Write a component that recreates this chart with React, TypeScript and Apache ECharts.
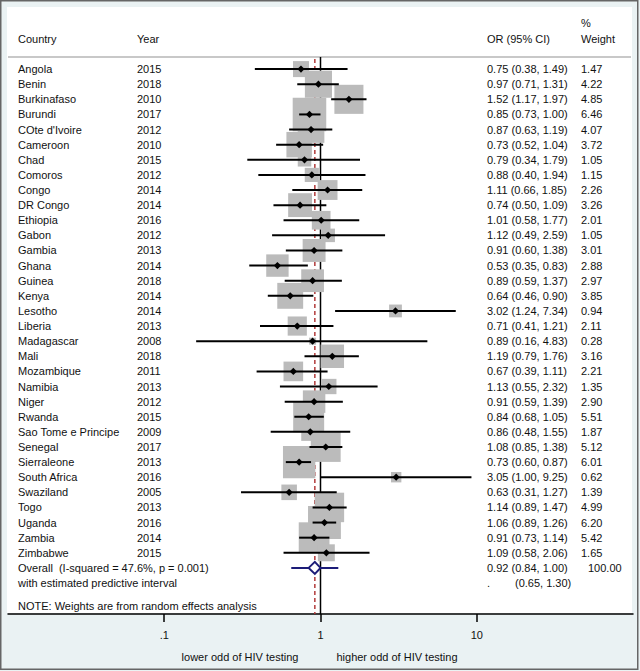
import React, { useEffect, useRef } from 'react';
import * as echarts from 'echarts';

const countries = [
  'Angola', 'Benin', 'Burkinafaso', 'Burundi', "COte d'Ivoire", 'Cameroon', 'Chad', 'Comoros',
  'Congo', 'DR Congo', 'Ethiopia', 'Gabon', 'Gambia', 'Ghana', 'Guinea', 'Kenya', 'Lesotho',
  'Liberia', 'Madagascar', 'Mali', 'Mozambique', 'Namibia', 'Niger', 'Rwanda',
  'Sao Tome e Principe', 'Senegal', 'Sierraleone', 'South Africa', 'Swaziland', 'Togo',
  'Uganda', 'Zambia', 'Zimbabwe',
];
const years = [
  2015, 2018, 2010, 2017, 2012, 2010, 2015, 2012, 2014, 2014, 2016, 2012, 2013, 2014, 2018,
  2014, 2014, 2013, 2008, 2018, 2011, 2013, 2012, 2015, 2009, 2017, 2013, 2016, 2005, 2013,
  2016, 2014, 2015,
];
const oddsRatios = [
  0.75, 0.97, 1.52, 0.85, 0.87, 0.73, 0.79, 0.88, 1.11, 0.74, 1.01, 1.12, 0.91, 0.53, 0.89,
  0.64, 3.02, 0.71, 0.89, 1.19, 0.67, 1.13, 0.91, 0.84, 0.86, 1.08, 0.73, 3.05, 0.63, 1.14,
  1.06, 0.91, 1.09,
];
const ciLower = [
  0.38, 0.71, 1.17, 0.73, 0.63, 0.52, 0.34, 0.40, 0.66, 0.50, 0.58, 0.49, 0.60, 0.35, 0.59,
  0.46, 1.24, 0.41, 0.16, 0.79, 0.39, 0.55, 0.59, 0.68, 0.48, 0.85, 0.60, 1.00, 0.31, 0.89,
  0.89, 0.73, 0.58,
];
const ciUpper = [
  1.49, 1.31, 1.97, 1.00, 1.19, 1.04, 1.79, 1.94, 1.85, 1.09, 1.77, 2.59, 1.38, 0.83, 1.37,
  0.90, 7.34, 1.21, 4.83, 1.76, 1.11, 2.32, 1.39, 1.05, 1.55, 1.38, 0.87, 9.25, 1.27, 1.47,
  1.26, 1.14, 2.06,
];
const weights = [
  1.47, 4.22, 4.85, 6.46, 4.07, 3.72, 1.05, 1.15, 2.26, 3.26, 2.01, 1.05, 3.01, 2.88, 2.97,
  3.85, 0.94, 2.11, 0.28, 3.16, 2.21, 1.35, 2.90, 5.51, 1.87, 5.12, 6.01, 0.62, 1.39, 4.99,
  6.20, 5.42, 1.65,
];

const overallOR = [0.92];
const overallCI = [0.84, 1.0];
const predictiveCI = [0.65, 1.3];
const overallWeight = [100.0];
const overallLabel = 'Overall  (I-squared = 47.6%, p = 0.001)';
const predictiveLabel = 'with estimated predictive interval';
const noteLabel = 'NOTE: Weights are from random effects analysis';

const xTickValues = [0.1, 1, 10];
const xTickLabels = ['.1', '1', '10'];

const FONT = '"Liberation Sans", Arial, Helvetica, sans-serif';
const Y_MIN = -0.8;
const Y_MAX = 36.05;
const BOX_K = 13.2;
const NAVY = '#1c1c78';

const COL_COUNTRY = 18;
const COL_YEAR = 137;
const COL_OR = 487;
const COL_WEIGHT = 581;

const fmt = (v: number) => v.toFixed(2);

export default function App() {
  const ref = useRef<HTMLDivElement>(null);
  useEffect(() => {
    if (!ref.current) return;
    const chart = echarts.init(ref.current, null, { renderer: 'svg' });

    const studyData = oddsRatios.map((o, i) => [o, ciLower[i], ciUpper[i], weights[i], i]);
    const overallRow = countries.length;

    const txt = (text: string, x: number, y: number, extra: any = {}) => ({
      type: 'text',
      style: {
        text,
        x,
        y,
        fill: '#111',
        fontSize: 11,
        fontFamily: FONT,
        verticalAlign: 'middle',
        align: 'left',
        ...extra,
      },
    });

    const option: any = {
      animation: false,
      backgroundColor: '#EAF2F3',
      grid: { left: 8, right: 7, top: 57, bottom: 57, containLabel: false },
      xAxis: {
        type: 'log',
        logBase: 10,
        min: 0.01,
        max: 100,
        axisLine: { show: true, onZero: false, lineStyle: { color: '#000', width: 1.5 } },
        axisTick: { show: true, customValues: xTickValues, length: 8, lineStyle: { color: '#000', width: 1.5 } },
        axisLabel: {
          show: true,
          customValues: xTickValues,
          margin: 15,
          color: '#111',
          fontSize: 11,
          fontFamily: FONT,
          formatter: (v: number) => {
            for (let k = 0; k < xTickValues.length; k++) {
              if (Math.abs(v - xTickValues[k]) < 1e-6 * xTickValues[k]) return xTickLabels[k];
            }
            return '';
          },
        },
        splitLine: { show: false },
      },
      yAxis: { type: 'value', inverse: true, min: Y_MIN, max: Y_MAX, show: false },
      graphic: [
        { type: 'rect', z: -10, shape: { x: 0.75, y: 0.75, width: 637, height: 668.5 }, style: { fill: '#EAF2F3', stroke: '#666', lineWidth: 1.5 } },
        { type: 'rect', z: -9, shape: { x: 7, y: 7, width: 625, height: 606 }, style: { fill: '#fff' } },
        { type: 'line', z: -8, shape: { x1: 8, y1: 57, x2: 631, y2: 57 }, style: { stroke: '#c8c8c8', lineWidth: 2 } },
        { type: 'text', style: { text: 'Country', x: COL_COUNTRY, y: 39, fill: '#111', fontSize: 11, fontFamily: FONT, verticalAlign: 'middle' } },
        { type: 'text', style: { text: 'Year', x: COL_YEAR, y: 39, fill: '#111', fontSize: 11, fontFamily: FONT, verticalAlign: 'middle' } },
        { type: 'text', style: { text: 'OR (95% CI)', x: COL_OR, y: 39, fill: '#111', fontSize: 11, fontFamily: FONT, verticalAlign: 'middle' } },
        { type: 'text', style: { text: '%', x: COL_WEIGHT, y: 23, fill: '#111', fontSize: 11, fontFamily: FONT, verticalAlign: 'middle' } },
        { type: 'text', style: { text: 'Weight', x: COL_WEIGHT, y: 39, fill: '#111', fontSize: 11, fontFamily: FONT, verticalAlign: 'middle' } },
        { type: 'text', style: { text: 'lower odd of HIV testing', x: 240, y: 657, fill: '#111', fontSize: 11, fontFamily: FONT, verticalAlign: 'middle', align: 'center' } },
        { type: 'text', style: { text: 'higher odd of HIV testing', x: 397, y: 657, fill: '#111', fontSize: 11, fontFamily: FONT, verticalAlign: 'middle', align: 'center' } },
      ],
      series: [
        {
          type: 'custom',
          z: 1,
          silent: true,
          data: [[1, overallOR[0]]],
          renderItem: (params: any, api: any) => {
            const a = api.coord([api.value(0), Y_MIN]);
            const b = api.coord([api.value(0), Y_MAX]);
            const c = api.coord([api.value(1), Y_MIN]);
            const d = api.coord([api.value(1), Y_MAX]);
            return {
              type: 'group',
              children: [
                { type: 'line', shape: { x1: a[0], y1: a[1], x2: b[0], y2: b[1] }, style: { stroke: '#000', lineWidth: 1.5 } },
                { type: 'line', shape: { x1: c[0], y1: c[1] + 2, x2: d[0], y2: d[1] }, style: { stroke: '#b23a3a', lineWidth: 1.5, lineDash: [4, 3] } },
              ],
            };
          },
        },
        {
          type: 'custom',
          z: 2,
          silent: true,
          data: studyData,
          renderItem: (params: any, api: any) => {
            const c = api.coord([api.value(0), api.value(4)]);
            const side = BOX_K * Math.sqrt(api.value(3));
            return {
              type: 'rect',
              shape: { x: c[0] - side / 2, y: c[1] - side / 2, width: side, height: side },
              style: { fill: '#bbbbbb' },
            };
          },
        },
        {
          type: 'custom',
          z: 3,
          silent: true,
          data: studyData,
          renderItem: (params: any, api: any) => {
            const row = api.value(4);
            const c = api.coord([api.value(0), row]);
            const l = api.coord([api.value(1), row]);
            const h = api.coord([api.value(2), row]);
            const r = 3.6;
            return {
              type: 'group',
              children: [
                { type: 'line', shape: { x1: l[0], y1: c[1], x2: h[0], y2: c[1] }, style: { stroke: '#000', lineWidth: 2 } },
                {
                  type: 'polygon',
                  shape: { points: [[c[0] - r, c[1]], [c[0], c[1] - r], [c[0] + r, c[1]], [c[0], c[1] + r]] },
                  style: { fill: '#000' },
                },
              ],
            };
          },
        },
        {
          type: 'custom',
          z: 3,
          silent: true,
          data: [[overallOR[0], overallCI[0], overallCI[1], predictiveCI[0], predictiveCI[1], overallRow]],
          renderItem: (params: any, api: any) => {
            const row = api.value(5);
            const c = api.coord([api.value(0), row]);
            const l = api.coord([api.value(1), row]);
            const h = api.coord([api.value(2), row]);
            const pl = api.coord([api.value(3), row]);
            const ph = api.coord([api.value(4), row]);
            const hh = 6;
            return {
              type: 'group',
              children: [
                { type: 'line', shape: { x1: pl[0], y1: c[1], x2: ph[0], y2: c[1] }, style: { stroke: NAVY, lineWidth: 2 } },
                {
                  type: 'polygon',
                  shape: { points: [[l[0], c[1]], [c[0], c[1] - hh], [h[0], c[1]], [c[0], c[1] + hh]] },
                  style: { fill: '#fff', stroke: NAVY, lineWidth: 2 },
                },
              ],
            };
          },
        },
        {
          type: 'custom',
          z: 4,
          silent: true,
          data: studyData,
          renderItem: (params: any, api: any) => {
            const i = params.dataIndex;
            const y = api.coord([1, api.value(4)])[1];
            return {
              type: 'group',
              children: [
                txt(countries[i], COL_COUNTRY, y),
                txt(String(years[i]), COL_YEAR, y),
                txt(`${fmt(oddsRatios[i])} (${fmt(ciLower[i])}, ${fmt(ciUpper[i])})`, COL_OR, y),
                txt(fmt(weights[i]), COL_WEIGHT, y),
              ],
            };
          },
        },
        {
          type: 'custom',
          z: 4,
          silent: true,
          data: [[overallRow]],
          renderItem: (params: any, api: any) => {
            const row = api.value(0);
            const y0 = api.coord([1, row])[1];
            const y1 = api.coord([1, row + 1])[1];
            const y2 = api.coord([1, row + 2.52])[1];
            return {
              type: 'group',
              children: [
                txt(overallLabel, COL_COUNTRY, y0),
                txt(`${fmt(overallOR[0])} (${fmt(overallCI[0])}, ${fmt(overallCI[1])})`, COL_OR, y0),
                txt(fmt(overallWeight[0]), 588, y0),
                txt(predictiveLabel, COL_COUNTRY, y1),
                txt('.', COL_OR, y1),
                txt(`(${fmt(predictiveCI[0])}, ${fmt(predictiveCI[1])})`, 515, y1),
                txt(noteLabel, COL_COUNTRY, y2),
              ],
            };
          },
        },
      ],
    };

    chart.setOption(option);
    return () => chart.dispose();
  }, []);

  return (
    <div
      ref={ref}
      style={{ position: 'absolute', left: 0, top: 0, width: 640, height: 671 }}
    />
  );
}
